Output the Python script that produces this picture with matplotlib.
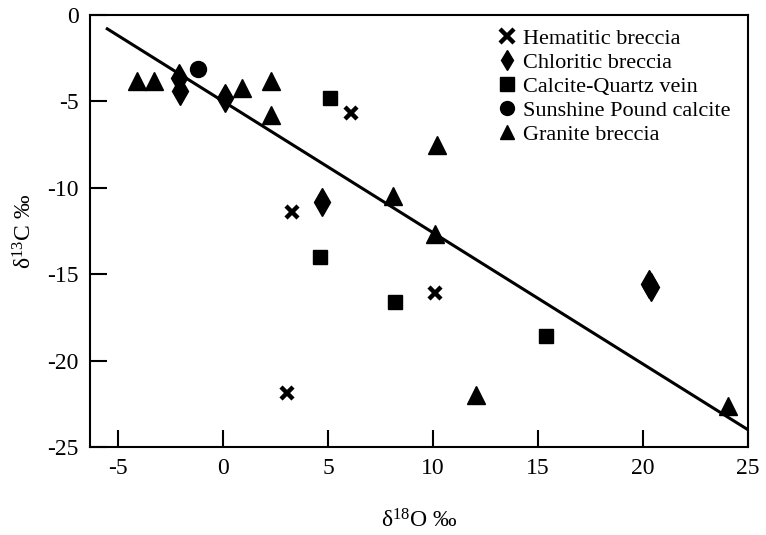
import matplotlib
matplotlib.use("Agg")
import matplotlib.pyplot as plt
import numpy as np

plt.rcParams['font.family'] = ['Liberation Serif', 'DejaVu Serif']
plt.rcParams['mathtext.fontset'] = 'custom'
plt.rcParams['mathtext.rm'] = 'Liberation Serif'
plt.rcParams['mathtext.it'] = 'Liberation Serif:italic'

# Data (delta18O, delta13C)
hem_x = [6.1, 3.3, 10.1, 3.05]
hem_y = [-5.7, -11.4, -16.1, -21.9]

chl_x = [-2.1, -2.05, 0.1, 4.7, 20.3, 20.4]
chl_y = [-3.65, -4.4, -4.8, -10.85, -15.55, -15.75]

cq_x = [5.1, 4.6, 8.2, 15.4]
cq_y = [-4.8, -14.0, -16.6, -18.6]

sun_x = [-1.2]
sun_y = [-3.1]

gra_x = [-4.1, -3.3, 0.9, 2.3, 2.3, 8.1, 10.2, 10.1, 12.05, 24.05]
gra_y = [-3.8, -3.8, -4.2, -3.8, -5.8, -10.5, -7.5, -12.7, -22.0, -22.6]

fit_x = [-5.57, 25.0]
fit_slope = -0.7605
fit_intercept = -4.99

xticks = [-5, 0, 5, 10, 15, 20, 25]
yticks = [0, -5, -10, -15, -20, -25]

fig = plt.figure(figsize=(7.66, 5.35), dpi=100)
ax = fig.add_axes([0.1175, 0.1645, 0.859, 0.8075])

fx = np.array(fit_x)
ax.plot(fx, fit_slope * fx + fit_intercept, color='black', lw=2.2, zorder=1,
        solid_capstyle='butt')

ax.plot(hem_x, hem_y, 'x', color='black', ms=8, mew=3.2, ls='none', label='Hematitic breccia', zorder=3)
ax.plot(chl_x, chl_y, 'd', color='black', ms=14, ls='none', label='Chloritic breccia', zorder=3)
ax.plot(cq_x, cq_y, 's', color='black', ms=10.5, ls='none', label='Calcite-Quartz vein', zorder=3)
ax.plot(sun_x, sun_y, 'o', color='black', ms=11.5, ls='none', label='Sunshine Pound calcite', zorder=3)
ax.plot(gra_x, gra_y, '^', color='black', ms=12.5, ls='none', label='Granite breccia', zorder=3)

ax.set_xlim(-6.33, 25)
ax.set_ylim(-25, 0)
ax.set_xticks(xticks)
ax.set_yticks(yticks)
ax.set_xticklabels([str(t) for t in xticks])
ax.set_yticklabels([str(t) for t in yticks])
ax.tick_params(direction='in', length=12.5, width=1.5, labelsize=17, pad=8)
for s in ax.spines.values():
    s.set_linewidth(1.5)

ax.set_xlabel(r'$\mathrm{\delta^{18}O}$ ‰', fontsize=17, labelpad=22)
ax.set_ylabel(r'$\mathrm{\delta^{13}C}$ ‰', fontsize=17, labelpad=8)

leg = fig.legend(*ax.get_legend_handles_labels(), loc='upper left', frameon=False,
                 fontsize=16, handletextpad=0.2, labelspacing=0.16, handlelength=1.0,
                 borderpad=0.0, borderaxespad=0.0,
                 bbox_to_anchor=(496 / 766, 1 - 28 / 535))
for h in leg.legend_handles:
    h.set_markersize(10)

fig.savefig('out.png', dpi=100)
